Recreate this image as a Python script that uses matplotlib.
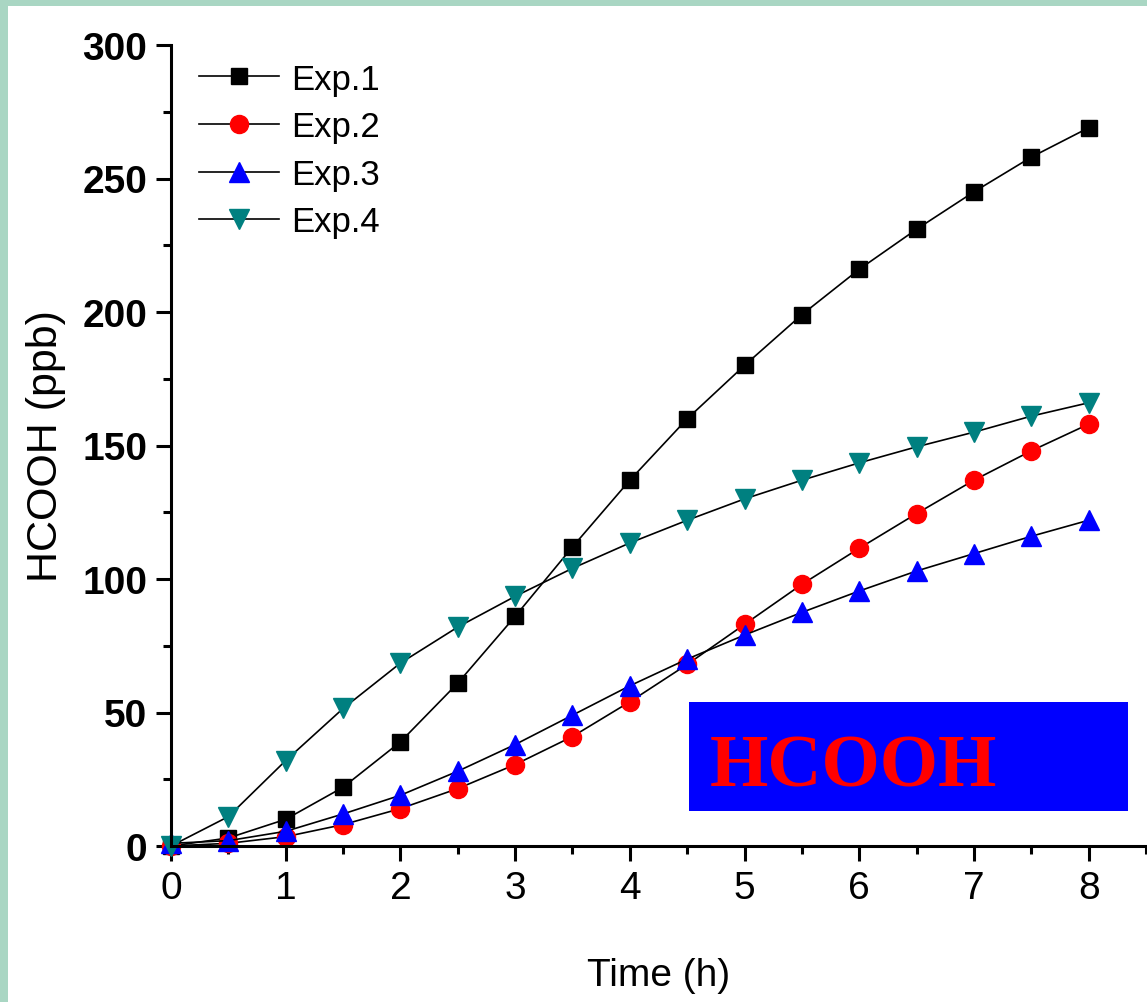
import numpy as np
import matplotlib
matplotlib.use("Agg")
from matplotlib import pyplot as plt
from matplotlib.patches import Rectangle
from matplotlib.ticker import MultipleLocator

time_h = [0, 0.5, 1, 1.5, 2, 2.5, 3, 3.5, 4, 4.5, 5, 5.5, 6, 6.5, 7, 7.5, 8]
exp1 = [0, 3, 10, 22, 39, 61, 86, 112, 137, 160, 180, 199, 216, 231, 245, 258, 269]
exp2 = [0, 1, 3.5, 8, 14, 21.5, 30.5, 41, 54, 68, 83, 98, 111.5, 124.5, 137, 148, 158]
exp3 = [1, 2, 5.5, 12, 19, 28, 38, 49, 60, 70, 79, 87.5, 95.5, 103, 109.5, 116, 122]
exp4 = [0, 11, 32, 51.5, 68.5, 82, 93.5, 104, 113.5, 122, 130, 137, 143.5, 149.5, 155, 161, 166]
labels = ["Exp.1", "Exp.2", "Exp.3", "Exp.4"]

font = "Liberation Sans"


def main():
    fig = plt.figure(figsize=(11.47, 10.03), dpi=100, facecolor="#a9d6c3")
    # white page over the green background strip
    fig.patches.append(Rectangle((8 / 1147, 0), 1, (1003 - 7) / 1003,
                                 transform=fig.transFigure, facecolor="white",
                                 edgecolor="none", zorder=-1))
    ax = fig.add_axes([171 / 1147, 156 / 1003, 975 / 1147, 801 / 1003])
    ax.set_zorder(2)
    ax.set_facecolor("none")

    styles = [("s", "black", 12), ("o", "red", 13), ("^", "blue", 15), ("v", "#008080", 15)]
    for ys, lab, (m, c, ms) in zip([exp1, exp2, exp3, exp4], labels, styles):
        ax.plot(time_h, ys, color="black", lw=1.2, marker=m, markersize=ms,
                markerfacecolor=c, markeredgecolor=c, label=lab, clip_on=False)

    ax.set_xlim(0, 8.5)
    ax.set_ylim(0, 300)
    ax.xaxis.set_major_locator(MultipleLocator(1))
    ax.xaxis.set_minor_locator(MultipleLocator(0.5))
    ax.yaxis.set_major_locator(MultipleLocator(50))
    ax.yaxis.set_minor_locator(MultipleLocator(25))

    for s in ["top", "right"]:
        ax.spines[s].set_visible(False)
    for s in ["left", "bottom"]:
        ax.spines[s].set_linewidth(2.2)

    ax.tick_params(which="major", length=11, width=2.2, direction="out", pad=6)
    ax.tick_params(which="minor", length=6, width=2.2, direction="out")
    for t in ax.get_yticklabels():
        t.set_fontfamily(font)
        t.set_fontweight("bold")
        t.set_fontsize(28)
    for t in ax.get_xticklabels():
        t.set_fontfamily(font)
        t.set_fontsize(28)

    ax.set_xlabel("Time (h)", fontfamily=font, fontsize=28, labelpad=37)
    ax.set_ylabel("HCOOH (ppb)", fontfamily=font, fontsize=31, labelpad=12)

    ax.legend(loc="upper left", frameon=False, numpoints=1, handlelength=2.3,
              prop={"family": font, "size": 25}, bbox_to_anchor=(-0.003, 1.017),
              labelspacing=0.42, handletextpad=0.35)

    ax.add_patch(Rectangle((0.531, 0.0437), 0.4505, 0.1361, transform=ax.transAxes,
                           facecolor="#0000ff", edgecolor="none", zorder=5))
    ax.text(0.553, 0.076, "HCOOH", transform=ax.transAxes, color="red",
            fontfamily="Liberation Serif", fontweight="bold", fontsize=54,
            va="baseline", ha="left", zorder=6)

    fig.savefig("out.png", dpi=100, facecolor=fig.get_facecolor())


if __name__ == "__main__":
    main()
